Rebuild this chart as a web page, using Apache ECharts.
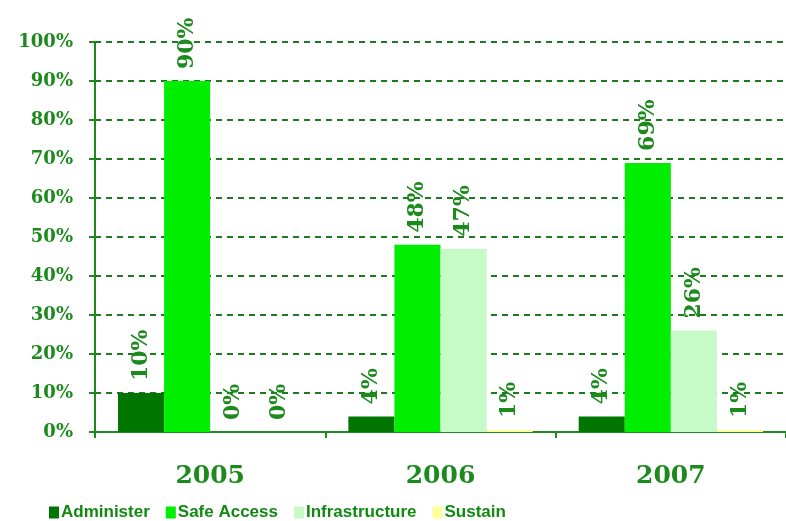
<!DOCTYPE html>
<html>
<head>
<meta charset="utf-8">
<style>
  html, body { margin: 0; padding: 0; background: #fff; }
  #chart { width: 786px; height: 521px; }
</style>
<script src="https://cdn.jsdelivr.net/npm/echarts@6/dist/echarts.min.js"></script>
</head>
<body>
<div id="chart"></div>
<script>
// chart data
var years = ['2005', '2006', '2007'];
var administer = [10, 4, 4];
var safeAccess = [90, 48, 69];
var infrastructure = [0, 47, 26];
var sustain = [0, 0.5, 0.5];
var yTicks = [0, 10, 20, 30, 40, 50, 60, 70, 80, 90, 100];

var green = '#1c8a1c';
var serif = '"DejaVu Serif", "Liberation Serif", serif';

function mkSeries(name, data, color) {
    return {
        name: name,
        type: 'bar',
        data: data,
        barGap: '0%',
        barCategoryGap: '20%',
        itemStyle: { color: color },
        label: {
            show: true,
            position: 'top',
            rotate: 90,
            align: 'left',
            verticalAlign: 'middle',
            distance: 12,
            color: green,
            fontFamily: serif,
            fontWeight: 'bold',
            fontSize: 22,
            formatter: function (p) { return Math.round(p.value) + '%'; }
        }
    };
}

var myChart = echarts.init(document.getElementById('chart'), null, { renderer: 'canvas' });
myChart.setOption({
    animation: false,
    backgroundColor: '#fff',
    grid: { left: 95, right: 0, top: 42, bottom: 89 },
    legend: {
        left: 44,
        top: 499,
        itemWidth: 10,
        itemHeight: 12,
        itemGap: 16,
        icon: 'rect',
        textStyle: {
            color: '#118a11',
            fontFamily: '"Liberation Sans", Arial, sans-serif',
            fontWeight: 'bold',
            fontSize: 17,
            padding: [0, 0, 0, -3]
        },
        data: ['Administer', 'Safe Access', 'Infrastructure', 'Sustain']
    },
    xAxis: {
        type: 'category',
        data: years,
        axisLine: { lineStyle: { color: green, width: 2 } },
        axisTick: { show: true, length: 6, lineStyle: { color: green, width: 2 } },
        axisLabel: {
            color: green,
            fontFamily: serif,
            fontWeight: 'bold',
            fontSize: 25,
            margin: 32
        }
    },
    yAxis: {
        type: 'value',
        min: yTicks[0],
        max: yTicks[yTicks.length - 1],
        interval: 10,
        axisLine: { show: true, lineStyle: { color: green, width: 2 } },
        axisTick: { show: true, length: 6, lineStyle: { color: green, width: 2 } },
        axisLabel: {
            color: green,
            fontFamily: serif,
            fontWeight: 'bold',
            fontSize: 18,
            margin: 22,
            formatter: '{value}%'
        },
        splitLine: {
            show: true,
            lineStyle: { color: '#1e7a1e', width: 2, type: [6, 5] }
        }
    },
    series: [
        mkSeries('Administer', administer, '#007500'),
        mkSeries('Safe Access', safeAccess, '#00ee00'),
        mkSeries('Infrastructure', infrastructure, '#c6fac6'),
        mkSeries('Sustain', sustain, '#ffff99')
    ]
});
</script>
</body>
</html>
